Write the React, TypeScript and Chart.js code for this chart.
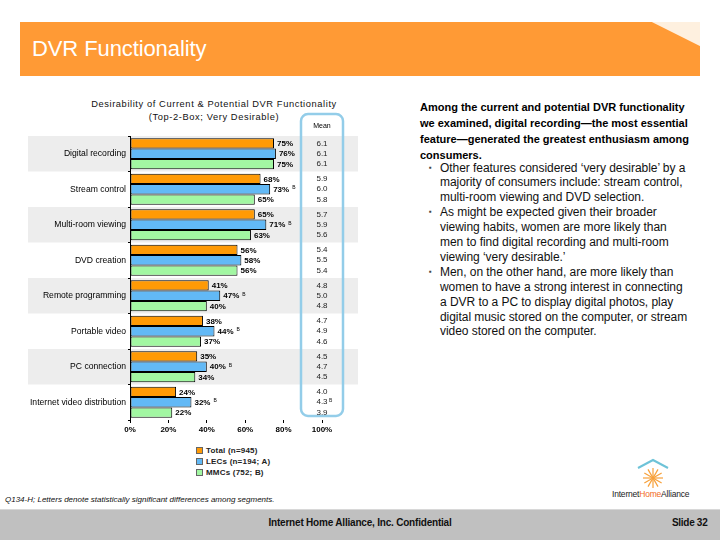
import React, { useEffect, useRef } from "react";
import { Chart, registerables } from "chart.js";

Chart.register(...registerables);

const categories = [
  "Digital recording",
  "Stream control",
  "Multi-room viewing",
  "DVD creation",
  "Remote programming",
  "Portable video",
  "PC connection",
  "Internet video distribution",
];
const seriesNames = ["Total (n=945)", "LECs (n=194; A)", "MMCs (752; B)"];
const totalValues = [75, 68, 65, 56, 41, 38, 35, 24];
const lecsValues = [76, 73, 71, 58, 47, 44, 40, 32];
const mmcsValues = [75, 65, 63, 56, 40, 37, 34, 22];
const lecsSigLetters = ["", "B", "B", "", "B", "B", "B", "B"];
const meanTotal = ["6.1", "5.9", "5.7", "5.4", "4.8", "4.7", "4.5", "4.0"];
const meanLecs = ["6.1", "6.0", "5.9", "5.5", "5.0", "4.9", "4.7", "4.3"];
const meanMmcs = ["6.1", "5.8", "5.6", "5.4", "4.8", "4.6", "4.5", "3.9"];
const meanLecsSig = ["", "", "", "", "", "", "", "B"];
const xTickValues = [0, 20, 40, 60, 80, 100];

const seriesColors = ["#FF9A05", "#62B9F6", "#A2F7A2"];
const FONT = '"Liberation Sans", Arial, sans-serif';

const boldLines = [
  "Among the current and potential DVR functionality",
  "we examined, digital recording\u2014the most essential",
  "feature\u2014generated the greatest enthusiasm among",
  "consumers.",
];
const bullets = [
  [
    "Other features considered \u2018very desirable\u2019 by a",
    "majority of consumers include: stream control,",
    "multi-room viewing and DVD selection.",
  ],
  [
    "As might be expected given their broader",
    "viewing habits, women are more likely than",
    "men to find digital recording and multi-room",
    "viewing \u2018very desirable.\u2019",
  ],
  [
    "Men, on the other hand, are more likely than",
    "women to have a strong interest in connecting",
    "a DVR to a PC to display digital photos, play",
    "digital music stored on the computer, or stream",
    "video stored on the computer.",
  ],
];

const bandsPlugin = {
  id: "bands",
  beforeDraw(chart: any) {
    const { ctx, scales } = chart;
    const y = scales.y;
    const step = y.getPixelForValue(1) - y.getPixelForValue(0);
    ctx.save();
    ctx.fillStyle = "#EDEDED";
    categories.forEach((_, i) => {
      if (i % 2 !== 0) return;
      const c = y.getPixelForValue(i);
      ctx.fillRect(8, c - step / 2, chart.width - 10, step);
    });
    ctx.restore();
  },
};

const labelsPlugin = {
  id: "labelsAndMean",
  afterDatasetsDraw(chart: any) {
    const { ctx, scales, chartArea } = chart;
    ctx.save();
    chart.data.datasets.forEach((ds: any, d: number) => {
      const meta = chart.getDatasetMeta(d);
      meta.data.forEach((el: any, i: number) => {
        const txt = ds.data[i] + "%";
        ctx.font = "bold 8px " + FONT;
        ctx.fillStyle = "#000";
        ctx.textAlign = "left";
        ctx.textBaseline = "middle";
        ctx.fillText(txt, el.x + 3, el.y + 0.5);
        const sig = d === 1 ? lecsSigLetters[i] : "";
        if (sig) {
          const w = ctx.measureText(txt).width;
          ctx.font = "5px " + FONT;
          ctx.fillText(sig, el.x + 3 + w + 3, el.y - 1.5);
        }
      });
    });
    const cx = scales.x.getPixelForValue(100);
    const bx = cx - 21;
    const bw = 42;
    const by = chartArea.top - 22;
    const bh = chartArea.bottom - 4 - by;
    ctx.beginPath();
    ctx.roundRect(bx, by, bw, bh, 7);
    ctx.lineWidth = 2.5;
    ctx.strokeStyle = "#93CDE9";
    ctx.stroke();
    ctx.fillStyle = "#000";
    ctx.font = "7px " + FONT;
    ctx.textAlign = "center";
    ctx.textBaseline = "middle";
    ctx.fillText("Mean", cx, by + 12);
    const means = [meanTotal, meanLecs, meanMmcs];
    means.forEach((arr, d) => {
      const meta = chart.getDatasetMeta(d);
      meta.data.forEach((el: any, i: number) => {
        ctx.font = "8px " + FONT;
        ctx.fillStyle = "#222";
        ctx.textAlign = "center";
        ctx.fillText(arr[i], cx, el.y);
        if (d === 1 && meanLecsSig[i]) {
          ctx.font = "5px " + FONT;
          ctx.textAlign = "left";
          ctx.fillText(meanLecsSig[i], cx + 7, el.y - 1.5);
        }
      });
    });
    ctx.restore();
  },
};

function BarChart() {
  const ref = useRef<HTMLCanvasElement | null>(null);
  useEffect(() => {
    if (!ref.current) return;
    const datasets = [totalValues, lecsValues, mmcsValues].map((data, i) => ({
      label: seriesNames[i],
      data,
      backgroundColor: seriesColors[i],
      borderColor: "#000",
      borderWidth: 1,
      borderSkipped: false as any,
      categoryPercentage: 0.87,
      barPercentage: 1.0,
    }));
    const chart = new Chart(ref.current, {
      type: "bar",
      data: { labels: categories, datasets },
      options: {
        indexAxis: "y",
        animation: false,
        responsive: true,
        maintainAspectRatio: false,
        layout: { padding: { left: 0, right: 38, top: 46, bottom: 4 } },
        plugins: {
          legend: { display: false },
          tooltip: { enabled: false },
          title: { display: false },
        },
        scales: {
          x: {
            min: 0,
            max: 100,
            afterBuildTicks: (scale: any) => {
              scale.ticks = xTickValues.map((v) => ({ value: v }));
            },
            afterFit: (scale: any) => {
              scale.height = 16;
            },
            ticks: {
              callback: (v: any) => v + "%",
              font: { family: FONT, size: 8, weight: "bold" },
              color: "#000",
              padding: 2,
              maxRotation: 0,
            },
            grid: {
              drawOnChartArea: false,
              drawTicks: true,
              tickLength: 3,
              color: "#000",
            },
            border: { display: false },
          },
          y: {
            afterFit: (scale: any) => {
              scale.width = 110;
            },
            ticks: {
              font: { family: FONT, size: 8.6 },
              color: "#000",
              padding: 2,
            },
            grid: {
              offset: true,
              drawOnChartArea: false,
              drawTicks: true,
              tickLength: 2,
              color: "#000",
            },
            border: { display: true, color: "#000", width: 1 },
          },
        },
      } as any,
      plugins: [bandsPlugin, labelsPlugin],
    });
    return () => chart.destroy();
  }, []);
  return (
    <div style={{ position: "absolute", left: 20, top: 90, width: 340, height: 350 }}>
      <canvas ref={ref} />
    </div>
  );
}

function Logo() {
  return (
    <div style={{ position: "absolute", left: 600, top: 456, width: 100, height: 46 }}>
      <svg width="100" height="34" viewBox="0 0 100 34">
        <polyline points="38,12 53,4 68,12" fill="none" stroke="#6EC3D8" strokeWidth="2" />
        {[0, 30, 60, 90, 120, 150].map((a) => {
          const r = (a * Math.PI) / 180;
          return (
            <line
              key={a}
              x1={53 - 10 * Math.cos(r)}
              y1={22 - 10 * Math.sin(r)}
              x2={53 + 10 * Math.cos(r)}
              y2={22 + 10 * Math.sin(r)}
              stroke="#F7A13B"
              strokeWidth="1.2"
            />
          );
        })}
      </svg>
      <div style={{ position: "absolute", left: 12, top: 33, fontSize: 8.5, color: "#222", whiteSpace: "nowrap", letterSpacing: -0.2 }}>
        Internet<span style={{ color: "#F26B21" }}>Home</span>Alliance
      </div>
    </div>
  );
}

export default function App() {
  return (
    <div
      style={{
        position: "absolute",
        left: 0,
        top: 0,
        width: 720,
        height: 540,
        background: "#fff",
        overflow: "hidden",
        fontFamily: FONT,
      }}
    >
      <div
        style={{
          position: "absolute",
          left: 20,
          top: 22,
          width: 680,
          height: 54,
          background: "#FF9A35",
          clipPath: "polygon(0 0, 632px 0, 680px 24px, 680px 54px, 0 54px)",
        }}
      />
      <div
        style={{
          position: "absolute",
          left: 652,
          top: 22,
          width: 48,
          height: 24,
          background: "#FCD3A4",
          clipPath: "polygon(0 0, 100% 100%, 100% 0)",
          opacity: 0.35,
        }}
      />
      <div
        style={{
          position: "absolute",
          left: 32,
          top: 36,
          fontSize: 22,
          color: "#fff",
          whiteSpace: "nowrap",
          letterSpacing: -0.1,
        }}
      >
        DVR Functionality
      </div>

      <div
        style={{
          position: "absolute",
          left: 44,
          width: 340,
          top: 98,
          textAlign: "center",
          fontSize: 9.3,
          lineHeight: "13px",
          letterSpacing: 0.6,
          color: "#111",
        }}
      >
        <div>Desirability of Current &amp; Potential DVR Functionality</div>
        <div>(Top-2-Box; Very Desirable)</div>
      </div>

      <BarChart />

      <div style={{ position: "absolute", left: 196, top: 445 }}>
        {seriesNames.map((n, i) => (
          <div key={n} style={{ display: "flex", alignItems: "center", height: 11, fontSize: 8, fontWeight: "bold", color: "#222", whiteSpace: "nowrap", letterSpacing: 0.2 }}>
            <span
              style={{
                display: "inline-block",
                width: 5,
                height: 5,
                background: seriesColors[i],
                border: "1px solid #666",
                marginRight: 3,
              }}
            />
            {n}
          </div>
        ))}
      </div>

      <div style={{ position: "absolute", left: 420, top: 99, color: "#000" }}>
        {boldLines.map((l) => (
          <div key={l} style={{ fontSize: 11, fontWeight: "bold", lineHeight: "16px", whiteSpace: "nowrap", letterSpacing: 0 }}>
            {l}
          </div>
        ))}
      </div>
      <div style={{ position: "absolute", left: 420, top: 160.5, color: "#111" }}>
        {bullets.map((para, pi) => (
          <div key={pi} style={{ position: "relative" }}>
            <span style={{ position: "absolute", left: 9, top: 0, fontSize: 8, lineHeight: "14.9px", color: "#444" }}>{"\u25AA"}</span>
            {para.map((l) => (
              <div key={l} style={{ marginLeft: 20, fontSize: 12, lineHeight: "14.9px", whiteSpace: "nowrap", letterSpacing: -0.05 }}>
                {l}
              </div>
            ))}
          </div>
        ))}
      </div>

      <div style={{ position: "absolute", left: 5, top: 495, fontSize: 8, fontStyle: "italic", color: "#111", whiteSpace: "nowrap", letterSpacing: 0 }}>
        Q134-H; Letters denote statistically significant differences among segments.
      </div>

      <Logo />

      <div style={{ position: "absolute", left: 0, top: 509, width: 720, height: 1, background: "#D8D8D8" }} />
      <div style={{ position: "absolute", left: 0, top: 510, width: 720, height: 30, background: "#C0C0C0" }} />
      <div style={{ position: "absolute", left: 0, top: 517, width: 720, textAlign: "center", fontSize: 10, fontWeight: "bold", color: "#111", letterSpacing: -0.2 }}>
        Internet Home Alliance, Inc. Confidential
      </div>
      <div style={{ position: "absolute", left: 672, top: 517, fontSize: 10, fontWeight: "bold", color: "#111", letterSpacing: -0.3, whiteSpace: "nowrap" }}>
        Slide 32
      </div>
    </div>
  );
}
